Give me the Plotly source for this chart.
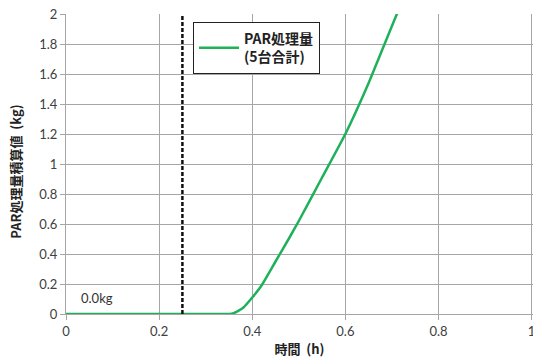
import plotly.graph_objects as go

# Data
time_h = [0, 0.1, 0.2, 0.3, 0.35, 0.36, 0.38, 0.40, 0.42, 0.45, 0.48, 0.50, 0.55, 0.60, 0.65, 0.70, 0.712]
par_kg = [0, 0, 0, 0, 0, 0.005, 0.04, 0.11, 0.19, 0.35, 0.51, 0.62, 0.91, 1.2, 1.54, 1.92, 2.01]
series_name = "<b>PAR処理量<br>(5台合計)</b>"
marker_time = 0.25
note_text = "0.0kg"
note_pos = (0.067, 0.107)
x_ticks = [0, 0.2, 0.4, 0.6, 0.8, 1]
y_ticks = [0, 0.2, 0.4, 0.6, 0.8, 1, 1.2, 1.4, 1.6, 1.8, 2]
x_title = "<b>時間&nbsp;&nbsp;(h)</b>"
y_title = "<b>PAR処理量積算値&nbsp;&nbsp;(kg)</b>"

GRID = "#a6a6a6"
TICKFONT = dict(family="Lato, 'Noto Sans CJK JP', sans-serif", size=13, color="#404040")
TITLEFONT = dict(family="'Noto Sans CJK JP', sans-serif", size=13, color="#222222")

fig = go.Figure()
fig.add_trace(go.Scatter(
    x=time_h, y=par_kg, mode="lines", name=series_name,
    line=dict(color="#1fb15a", width=2.5, shape="spline", smoothing=0.4),
    cliponaxis=True,
))

fig.add_vline(x=marker_time, line=dict(color="#111111", width=2.5, dash="4px,2px"))

fig.add_annotation(x=note_pos[0], y=note_pos[1], text=note_text, showarrow=False,
                   font=dict(family="Lato, sans-serif", size=13, color="#333333"))

# y-axis title as a paper-positioned annotation
fig.add_annotation(xref="paper", yref="paper", x=-0.11, y=0.473, text=y_title,
                   textangle=-90, showarrow=False, font=TITLEFONT,
                   xanchor="center", yanchor="middle")

fig.update_layout(
    width=533, height=362,
    margin=dict(l=66, r=0, t=14, b=48, autoexpand=False),
    paper_bgcolor="white", plot_bgcolor="white",
    showlegend=True,
    legend=dict(x=0.272, y=0.973, xanchor="left", yanchor="top",
                bgcolor="white", bordercolor="#222222", borderwidth=1,
                font=dict(family="'Noto Sans CJK JP', sans-serif", size=14, color="#222222"),
                itemwidth=40, tracegroupgap=0),
    xaxis=dict(range=[0, 1.003], tickvals=x_ticks, ticktext=[str(v) for v in x_ticks],
               showgrid=True, gridcolor=GRID, gridwidth=1,
               showline=True, linecolor=GRID, linewidth=1, mirror=False,
               ticks="outside", ticklen=5, tickcolor=GRID,
               tickfont=TICKFONT, zeroline=False, ticklabeloverflow="allow",
               title=dict(text=x_title, font=TITLEFONT, standoff=7)),
    yaxis=dict(range=[0, 2], tickvals=y_ticks, ticktext=[f"{v:g}" for v in y_ticks],
               showgrid=True, gridcolor=GRID, gridwidth=1,
               showline=True, linecolor=GRID, linewidth=1,
               ticks="outside", ticklen=5, tickcolor=GRID,
               tickfont=TICKFONT, zeroline=False),
)

fig.write_html("out.html", config={"displayModeBar": False},
               post_script="document.body.style.margin='0px';")
